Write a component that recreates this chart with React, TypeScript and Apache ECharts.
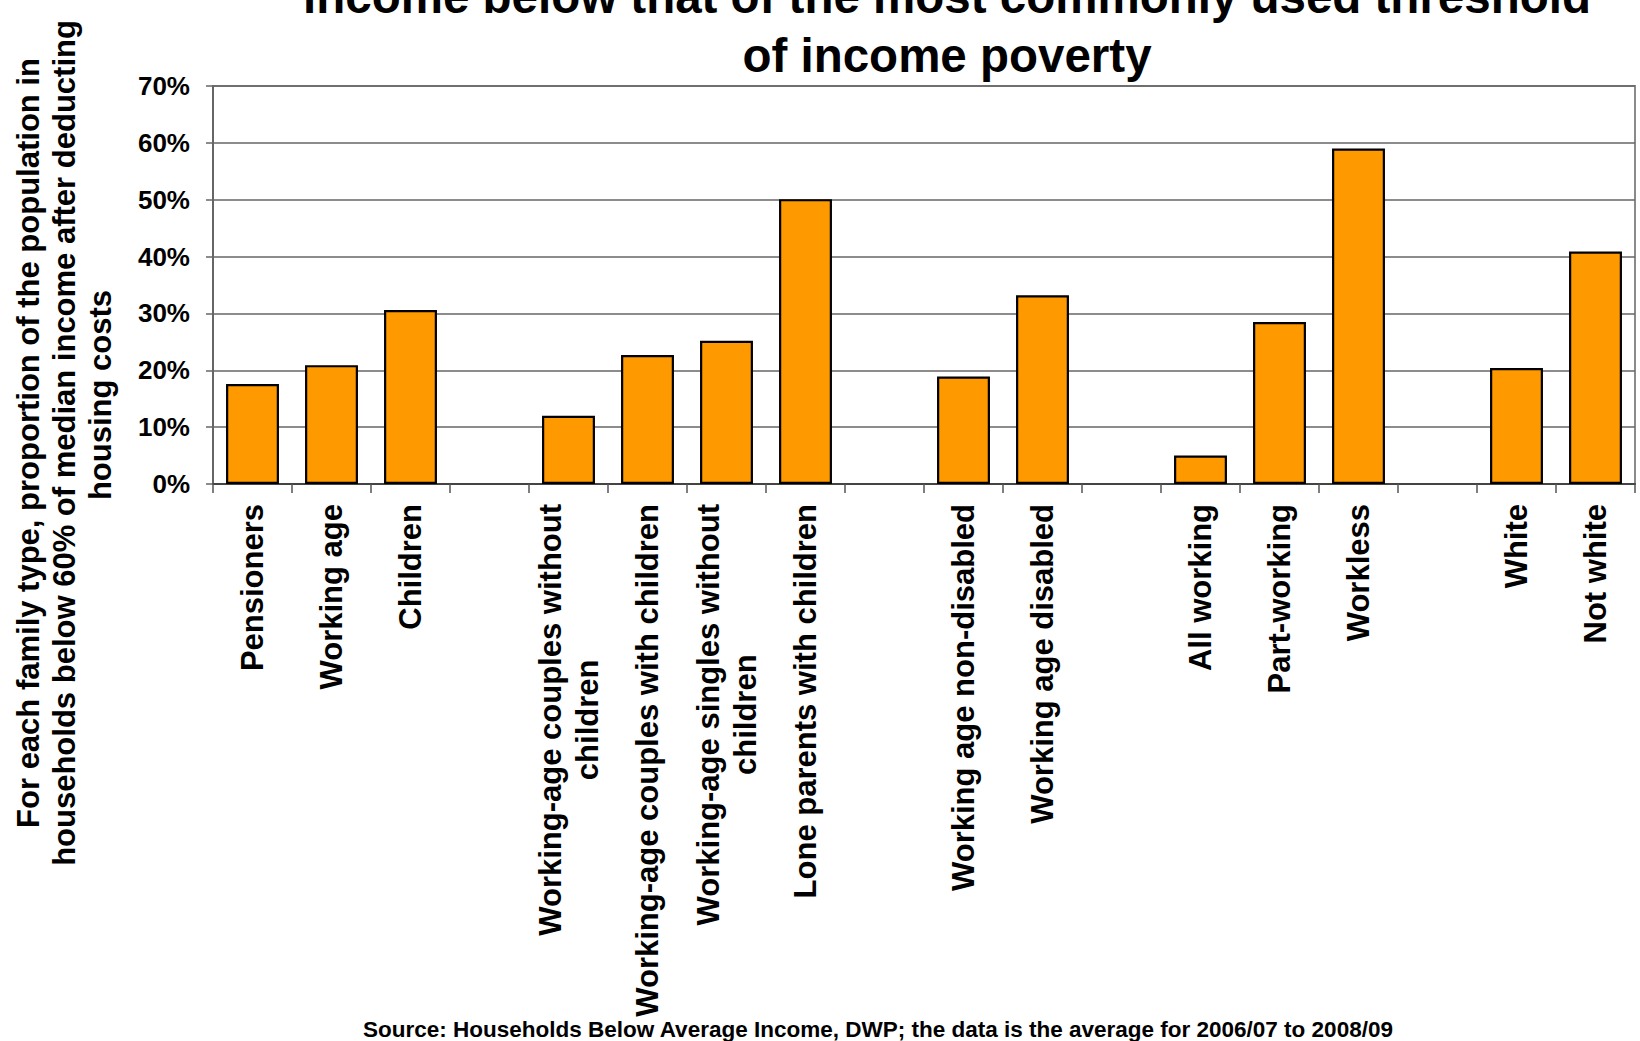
import React, { useEffect, useRef } from 'react';
import * as echarts from 'echarts';

const FONT = 'Liberation Sans, Arial, Helvetica, sans-serif';

const titleLines = [
  'income below that of the most commonly used threshold',
  'of income poverty',
];

const yAxisNameLines = [
  'For each family type, proportion of the population in',
  'households below 60% of median income after deducting',
  'housing costs',
];

const sourceText =
  'Source: Households Below Average Income, DWP; the data is the average for 2006/07 to 2008/09';

const categories = [
  'Pensioners',
  'Working age',
  'Children',
  '',
  'Working-age couples without\nchildren',
  'Working-age couples with children',
  'Working-age singles without\nchildren',
  'Lone parents with children',
  '',
  'Working age non-disabled',
  'Working age disabled',
  '',
  'All working',
  'Part-working',
  'Workless',
  '',
  'White',
  'Not white',
];

const values = [
  17.6, 20.9, 30.6, null, 12.0, 22.7, 25.2, 50.1, null, 18.9, 33.2, null, 5.0, 28.5, 59.0, null,
  20.4, 40.9,
];

const yMin = 0;
const yMax = 70;
const yStep = 10;

export default function App() {
  const ref = useRef<HTMLDivElement>(null);

  useEffect(() => {
    if (!ref.current) return;
    const chart = echarts.init(ref.current, null, { renderer: 'svg' });
    const option: any = {
      animation: false,
      backgroundColor: '#ffffff',
      textStyle: { fontFamily: FONT },
      grid: {
        left: 213,
        right: 5,
        top: 86,
        bottom: 557,
        show: true,
        borderColor: '#8a8a8a',
        borderWidth: 2,
        containLabel: false,
      },
      xAxis: {
        type: 'category',
        data: categories,
        boundaryGap: true,
        axisLine: { show: true, lineStyle: { color: '#444', width: 2 } },
        axisTick: {
          show: true,
          inside: false,
          length: 9,
          interval: 0,
          lineStyle: { color: '#555', width: 1.5 },
        },
        axisLabel: {
          interval: 0,
          rotate: 90,
          margin: 20,
          color: '#000',
          fontFamily: FONT,
          fontWeight: 'bold',
          fontSize: 31,
          lineHeight: 37,
          formatter: (v: string) =>
            v
              .split('\n')
              .map((l) => (l ? `{c|${l}}` : ''))
              .join('\n'),
          rich: {
            c: {
              align: 'center',
              fontFamily: FONT,
              fontWeight: 'bold',
              fontSize: 31,
              lineHeight: 37,
              color: '#000',
            },
          },
        },
        splitLine: { show: false },
      },
      yAxis: {
        type: 'value',
        min: yMin,
        max: yMax,
        interval: yStep,
        axisLine: { show: true, lineStyle: { color: '#666', width: 2 } },
        axisTick: { show: true, inside: false, length: 7, lineStyle: { color: '#666', width: 1.5 } },
        axisLabel: {
          formatter: '{value}%',
          margin: 23,
          color: '#000',
          fontFamily: FONT,
          fontWeight: 'bold',
          fontSize: 26,
        },
        splitLine: { show: true, lineStyle: { color: '#666', width: 1.5 } },
      },
      series: [
        {
          type: 'bar',
          data: values,
          barCategoryGap: '33%',
          itemStyle: { color: '#FF9900', borderColor: '#000', borderWidth: 2.2 },
          emphasis: { disabled: true },
        },
      ],
      graphic: [
        {
          type: 'text',
          x: 947,
          y: -33,
          silent: true,
          style: {
            text: titleLines.join('\n'),
            fontFamily: FONT,
            fontWeight: 'bold',
            fontSize: 47.5,
            lineHeight: 59,
            fill: '#000',
            align: 'center',
            verticalAlign: 'top',
          },
        },
        {
          type: 'text',
          x: 64,
          y: 443,
          rotation: Math.PI / 2,
          silent: true,
          style: {
            text: yAxisNameLines
              .map((l, i) => (i === yAxisNameLines.length - 1 ? `{s|${l}}` : `{n|${l}}`))
              .join('\n'),
            fontFamily: FONT,
            fontWeight: 'bold',
            fontSize: 31,
            lineHeight: 36,
            fill: '#000',
            align: 'center',
            verticalAlign: 'middle',
            rich: {
              n: {
                align: 'center',
                fontFamily: FONT,
                fontWeight: 'bold',
                fontSize: 31,
                lineHeight: 36,
                fill: '#000',
              },
              s: {
                align: 'center',
                fontFamily: FONT,
                fontWeight: 'bold',
                fontSize: 31,
                lineHeight: 36,
                fill: '#000',
                padding: [0, 0, 0, 96],
              },
            },
          },
        },
        {
          type: 'text',
          x: 363,
          y: 1029,
          silent: true,
          style: {
            text: sourceText,
            fontFamily: FONT,
            fontWeight: 'bold',
            fontSize: 22.5,
            fill: '#000',
            align: 'left',
            verticalAlign: 'middle',
          },
        },
      ],
    };
    chart.setOption(option);
    return () => chart.dispose();
  }, []);

  return (
    <div
      ref={ref}
      style={{ position: 'fixed', left: 0, top: 0, width: 1640, height: 1041, background: '#fff' }}
    />
  );
}
